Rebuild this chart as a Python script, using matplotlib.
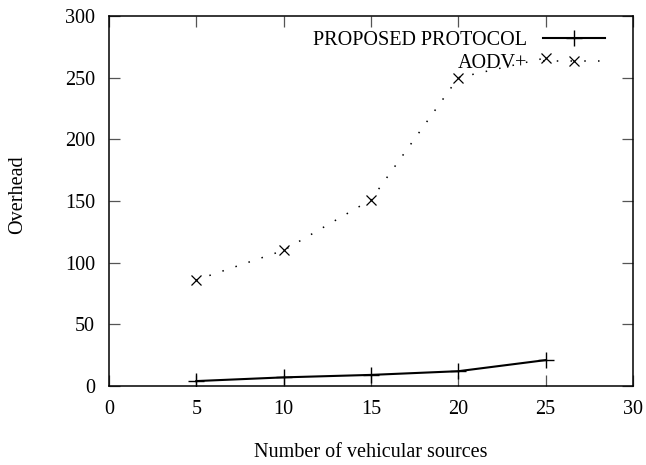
import numpy as np
import matplotlib
matplotlib.use('Agg')
import matplotlib.pyplot as plt

# --- overhead versus number of vehicular sources (gnuplot style)

sources = [5, 10, 15, 20, 25]
proposed = [4, 7, 9, 12, 21]  # PROPOSED PROTOCOL
aodv = [86, 110, 151, 250, 266]  # AODV+

xticks = [0, 5, 10, 15, 20, 25, 30]
yticks = [0, 50, 100, 150, 200, 250, 300]

plt.rcParams['font.family'] = ['Liberation Serif', 'DejaVu Serif']
plt.rcParams['font.size'] = 14.5

W, H = 646, 465
fig = plt.figure(figsize=(W/100, H/100), dpi=100)

left, right, top, bottom = 109, 633, 16, 386
ax = fig.add_axes((left/W, 1 - bottom/H, (right-left)/W, (bottom-top)/H))

ax.plot(sources, proposed, color='black', lw=1.5, marker='+', ms=11, mew=1.0,
        label='PROPOSED PROTOCOL')
ax.plot(sources, aodv, color='black', lw=1.1, ls=(0, (1, 8)), marker='x', ms=7.5, mew=0.9,
        label='AODV+')

ax.set_xlim(0, 30)
ax.set_ylim(0, 300)
ax.set_xticks(xticks)
ax.set_yticks(yticks)
ax.tick_params(direction='in', length=8, width=0.9, color='#555555',
               top=True, right=True, pad=10)
for s in ax.spines.values():
    s.set_linewidth(1.1)

# axis titles placed like gnuplot does
fig.text(18/W, 1 - 195/H, 'Overhead', rotation=90, ha='center', va='center')
fig.text((left+right)/2/W, 1 - 452/H, 'Number of vehicular sources', ha='center', va='center')

ax.legend(loc='upper right', bbox_to_anchor=(605/W, 1 - 31/H), bbox_transform=fig.transFigure,
          frameon=False, markerfirst=False, handlelength=3.1, handletextpad=0.75,
          labelspacing=0.2, borderpad=0, borderaxespad=0)

fig.savefig('out.png', dpi=100)
